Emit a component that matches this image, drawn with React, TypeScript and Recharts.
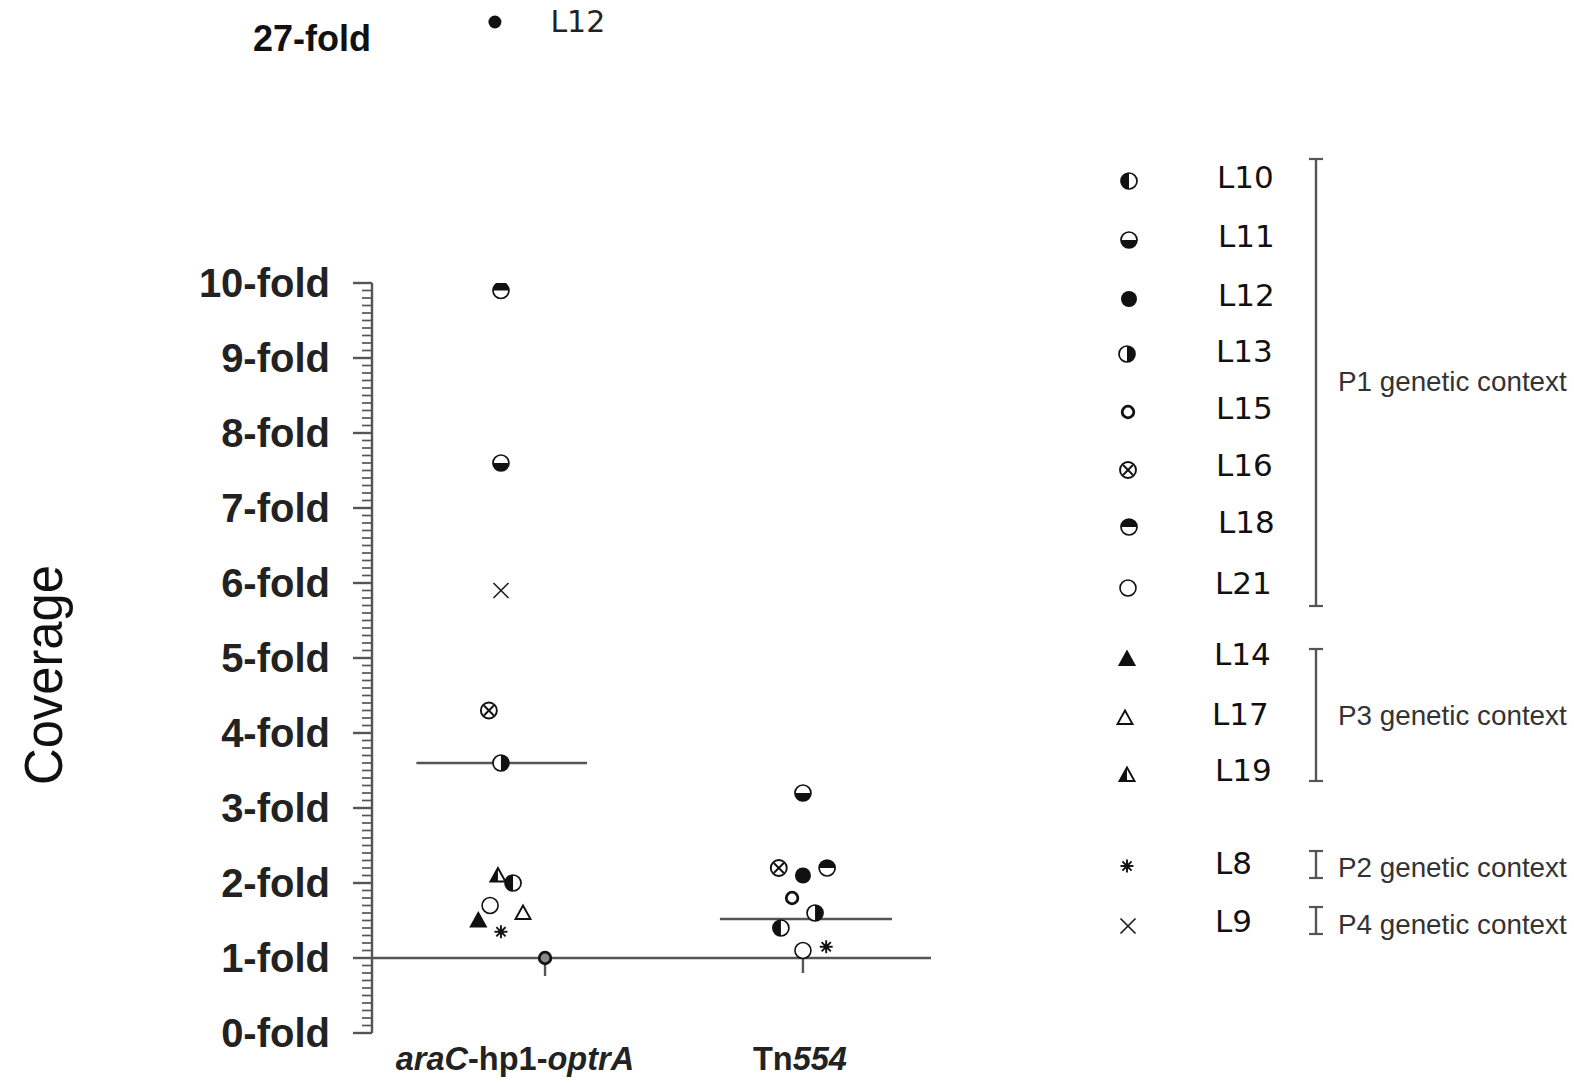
import React from "react";
import {
  ScatterChart,
  Scatter,
  XAxis,
  YAxis,
  ReferenceLine,
  LabelList,
} from "recharts";

// ---------- data ----------
const groupPositions = [0, 1];
const groupLabelParts: [string, boolean][][] = [
  [
    ["araC", true],
    ["-hp1-", false],
    ["optrA", true],
  ],
  [
    ["Tn", false],
    ["554", true],
  ],
];

const araCLines = ["L10", "L11", "L12", "L13", "L15", "L16", "L18", "L21", "L14", "L17", "L19", "L8", "L9"];
const araCValues = [2.0, 7.6, 27, 3.6, 1.0, 4.3, 9.9, 1.7, 1.5, 1.6, 2.1, 1.35, 5.9];
const araCJitter = [0.04, 0, -0.02, 0, 0.146, -0.04, 0, -0.036, -0.075, 0.073, -0.01, 0, 0];

const tnLines = ["L10", "L11", "L12", "L13", "L15", "L16", "L18", "L21", "L8"];
const tnValues = [1.4, 3.2, 2.1, 1.6, 1.8, 2.2, 2.2, 1.1, 1.15];
const tnJitter = [-0.073, 0, 0, 0.04, -0.036, -0.08, 0.08, 0, 0.077];

const groupMeans = [3.6, 1.52];
const meanHalfLeft = [0.28, 0.275];
const meanHalfRight = [0.285, 0.295];

// lower whiskers (stems) below single points
const stemGroup = [0, 1];
const stemJitter = [0.146, 0];
const stemFrom = [1.0, 1.1];
const stemTo = [0.76, 0.8];

const yTickValues = [0, 1, 2, 3, 4, 5, 6, 7, 8, 9, 10];
const yTickLabels = ["0-fold", "1-fold", "2-fold", "3-fold", "4-fold", "5-fold", "6-fold", "7-fold", "8-fold", "9-fold", "10-fold"];
const brokenTickValue = 27;
const brokenTickLabel = "27-fold";

const symbolOf: Record<string, string> = {
  L10: "halfLeft",
  L11: "halfBottom",
  L12: "solid",
  L13: "halfRight",
  L15: "smallRing",
  L16: "xcircle",
  L18: "halfTop",
  L21: "ring",
  L14: "triFilled",
  L17: "triOpen",
  L19: "triHalf",
  L8: "asterisk",
  L9: "cross",
};

const legendLines = ["L10", "L11", "L12", "L13", "L15", "L16", "L18", "L21", "L14", "L17", "L19", "L8", "L9"];
const legendLabelY = [177, 236, 295, 351, 408, 465, 522, 583, 654, 714, 770, 863, 921];
const legendSymbolY = [181, 240, 299, 354, 412, 470, 527, 588, 659, 718, 775, 866, 926];
const legendSymbolX = [1129, 1129, 1129, 1127, 1128, 1128, 1129, 1128, 1127, 1125, 1127, 1127, 1128];
const legendLabelX = [1217, 1218, 1218, 1216, 1216, 1216, 1218, 1215, 1214, 1212, 1215, 1215, 1215];
const contextNames = ["P1 genetic context", "P3 genetic context", "P2 genetic context", "P4 genetic context"];
const contextTextY = [382, 716, 868, 925];
const contextBracketTop = [159, 649, 851, 907];
const contextBracketBottom = [606, 781, 878, 934];

// ---------- build point tables ----------
type Pt = { x: number; y: number; line: string; kind: string; fill?: string };
const allPoints: Pt[] = [
  ...araCLines.map((l, i) => ({
    x: groupPositions[0] + araCJitter[i],
    y: araCValues[i],
    line: l,
    kind: symbolOf[l],
    fill: l === "L15" ? "#8a8a8a" : undefined,
  })),
  ...tnLines.map((l, i) => ({
    x: groupPositions[1] + tnJitter[i],
    y: tnValues[i],
    line: l,
    kind: symbolOf[l],
  })),
];
const mainPoints = allPoints.filter((p) => p.y <= 10);
const brokenPoints = allPoints.filter((p) => p.y > 10);

// ---------- markers ----------
const INK = "#111";
const LINE = "#555";
function Marker({ kind, cx, cy, fill }: { kind: string; cx: number; cy: number; fill?: string }) {
  const r = 8;
  const sw = 1.7;
  switch (kind) {
    case "solid":
      return <circle cx={cx} cy={cy} r={r} fill={INK} />;
    case "ring":
      return <circle cx={cx} cy={cy} r={r} fill="#fff" stroke={INK} strokeWidth={1.6} />;
    case "smallRing":
      return <circle cx={cx} cy={cy} r={5.8} fill={fill || "#fff"} stroke={INK} strokeWidth={2.8} />;
    case "halfLeft":
    case "halfRight":
    case "halfTop":
    case "halfBottom": {
      let d = "";
      if (kind === "halfLeft") d = `M${cx},${cy - r} A${r},${r} 0 0 0 ${cx},${cy + r} Z`;
      if (kind === "halfRight") d = `M${cx},${cy - r} A${r},${r} 0 0 1 ${cx},${cy + r} Z`;
      if (kind === "halfTop") d = `M${cx - r},${cy} A${r},${r} 0 0 1 ${cx + r},${cy} Z`;
      if (kind === "halfBottom") d = `M${cx - r},${cy} A${r},${r} 0 0 0 ${cx + r},${cy} Z`;
      return (
        <g>
          <circle cx={cx} cy={cy} r={r} fill="#fff" stroke={INK} strokeWidth={sw} />
          <path d={d} fill={INK} />
        </g>
      );
    }
    case "xcircle": {
      const k = r * 0.62;
      return (
        <g>
          <circle cx={cx} cy={cy} r={r} fill="#fff" stroke={INK} strokeWidth={1.9} />
          <line x1={cx - k} y1={cy - k} x2={cx + k} y2={cy + k} stroke={INK} strokeWidth={1.9} />
          <line x1={cx - k} y1={cy + k} x2={cx + k} y2={cy - k} stroke={INK} strokeWidth={1.9} />
        </g>
      );
    }
    case "triFilled":
    case "triOpen":
    case "triHalf": {
      const top = `${cx},${cy - 7.5}`;
      const br = `${cx + 7.5},${cy + 6}`;
      const bl = `${cx - 7.5},${cy + 6}`;
      return (
        <g>
          <polygon
            points={`${top} ${br} ${bl}`}
            fill={kind === "triFilled" ? INK : "#fff"}
            stroke={INK}
            strokeWidth={1.9}
            strokeLinejoin="miter"
          />
          {kind === "triHalf" && <polygon points={`${top} ${cx},${cy + 6} ${bl}`} fill={INK} />}
        </g>
      );
    }
    case "asterisk": {
      const a = 6.5;
      const b = a * 0.707;
      return (
        <g stroke={INK} strokeWidth={1.9}>
          <line x1={cx - a} y1={cy} x2={cx + a} y2={cy} />
          <line x1={cx} y1={cy - a} x2={cx} y2={cy + a} />
          <line x1={cx - b} y1={cy - b} x2={cx + b} y2={cy + b} />
          <line x1={cx - b} y1={cy + b} x2={cx + b} y2={cy - b} />
          <circle cx={cx} cy={cy} r={2.7} fill={INK} stroke="none" />
        </g>
      );
    }
    case "cross": {
      const a = 7.5;
      return (
        <g stroke="#222" strokeWidth={1.7}>
          <line x1={cx - a} y1={cy - a} x2={cx + a} y2={cy + a} />
          <line x1={cx - a} y1={cy + a} x2={cx + a} y2={cy - a} />
        </g>
      );
    }
  }
  return null;
}

// ---------- ticks ----------
const FONT = "'Liberation Sans', Arial, Helvetica, sans-serif";
const SANS2 = "'DejaVu Sans', Verdana, sans-serif";
const minorTicks: number[] = [];
for (let i = 0; i <= 100; i++) minorTicks.push(i / 10);

const YTick = (props: any) => {
  const { x, y, payload } = props;
  const v = payload.value as number;
  const idx = yTickValues.findIndex((t) => Math.abs(t - v) < 1e-6);
  const major = idx >= 0;
  return (
    <g>
      <line x1={x - (major ? 19 : 10)} x2={x} y1={y} y2={y} stroke={LINE} strokeWidth={major ? 2.4 : 1.7} />
      {major && (
        <text x={x - 42} y={y + 14} textAnchor="end" fontFamily={FONT} fontWeight="bold" fontSize={40} fill="#222">
          {yTickLabels[idx]}
        </text>
      )}
    </g>
  );
};

const XTick = (props: any) => {
  const { x, y, index } = props;
  const dx = index === 0 ? 14 : -3;
  return (
    <text x={x + dx} y={y + 37} textAnchor="middle" fontFamily={FONT} fontWeight="bold" fontSize={32.5} fill="#222">
      {groupLabelParts[index].map(([t, it], i) => (
        <tspan key={i} fontStyle={it ? "italic" : "normal"}>
          {t}
        </tspan>
      ))}
    </text>
  );
};

const BrokenTick = (props: any) => {
  const { x, y } = props;
  return (
    <text x={x - 1} y={y + 29} textAnchor="end" fontFamily={FONT} fontWeight="bold" fontSize={36} fill="#111">
      {brokenTickLabel}
    </text>
  );
};

const X_DOMAIN: [number, number] = [-0.427, 1.424];
const shapeFn = (p: any) => <Marker kind={p.payload.kind} cx={p.cx} cy={p.cy} fill={p.payload.fill} />;

export default function App() {
  return (
    <div style={{ position: "absolute", left: 0, top: 0, width: 1574, height: 1086, background: "#fff" }}>
      {/* main chart */}
      <div style={{ position: "absolute", left: 0, top: 0 }}>
        <ScatterChart width={1574} height={1086} margin={{ top: 283, right: 643, bottom: 13, left: 0 }}>
          <XAxis
            type="number"
            dataKey="x"
            domain={X_DOMAIN}
            allowDataOverflow
            ticks={groupPositions}
            interval={0}
            axisLine={false}
            tickLine={false}
            tickSize={0}
            tickMargin={0}
            height={40}
            tick={<XTick />}
          />
          <YAxis
            type="number"
            dataKey="y"
            domain={[0, 10]}
            allowDataOverflow
            ticks={minorTicks}
            interval={0}
            width={372}
            axisLine={{ stroke: LINE, strokeWidth: 2.4 }}
            tickLine={false}
            tickSize={0}
            tickMargin={0}
            tick={<YTick />}
            label={{
              content: (p: any) => {
                const vb = p.viewBox || { x: 0, y: 283, height: 750 };
                const cx = vb.x + 62;
                const cy = vb.y + vb.height / 2 + 17;
                return (
                  <text
                    x={cx}
                    y={cy}
                    transform={`rotate(-90, ${cx}, ${cy})`}
                    textAnchor="middle"
                    fontFamily={FONT}
                    fontSize={54}
                    textLength={220}
                    lengthAdjust="spacingAndGlyphs"
                    fill="#111"
                  >
                    Coverage
                  </text>
                );
              },
            }}
          />
          <ReferenceLine y={1} stroke={LINE} strokeWidth={2.4} />
          {groupPositions.map((g, i) => (
            <ReferenceLine
              key={"m" + i}
              segment={[
                { x: g - meanHalfLeft[i], y: groupMeans[i] },
                { x: g + meanHalfRight[i], y: groupMeans[i] },
              ]}
              stroke={LINE}
              strokeWidth={2.4}
            />
          ))}
          {stemGroup.map((g, i) => (
            <ReferenceLine
              key={"s" + i}
              segment={[
                { x: groupPositions[g] + stemJitter[i], y: stemFrom[i] },
                { x: groupPositions[g] + stemJitter[i], y: stemTo[i] },
              ]}
              stroke={LINE}
              strokeWidth={2.4}
            />
          ))}
          <Scatter data={mainPoints} shape={shapeFn} isAnimationActive={false} />
        </ScatterChart>
      </div>

      {/* broken-axis inset for the 27-fold point */}
      <div style={{ position: "absolute", left: 0, top: 0 }}>
        <ScatterChart width={1574} height={80} margin={{ top: 0, right: 643, bottom: 36, left: 0 }}>
          <XAxis type="number" dataKey="x" domain={X_DOMAIN} allowDataOverflow hide />
          <YAxis
            type="number"
            dataKey="y"
            domain={[26, 28]}
            ticks={[brokenTickValue]}
            width={372}
            axisLine={false}
            tickLine={false}
            tickSize={0}
            tickMargin={0}
            tick={<BrokenTick />}
          />
          <Scatter
            data={brokenPoints}
            shape={(p: any) => <circle cx={p.cx} cy={p.cy} r={6.5} fill={INK} />}
            isAnimationActive={false}
          >
            <LabelList
              dataKey="line"
              content={(p: any) => (
                <text x={p.x + 60} y={p.y + 15} fontFamily={SANS2} fontSize={30} fill="#222">
                  {p.value}
                </text>
              )}
            />
          </Scatter>
        </ScatterChart>
      </div>

      {/* legend */}
      <svg width={1574} height={1086} style={{ position: "absolute", left: 0, top: 0, pointerEvents: "none" }}>
        {legendLines.map((l, i) => (
          <g key={l}>
            <Marker kind={symbolOf[l]} cx={legendSymbolX[i]} cy={legendSymbolY[i]} />
            <text x={legendLabelX[i]} y={legendLabelY[i] + 11} fontFamily={SANS2} fontSize={31} fill="#111">
              {l}
            </text>
          </g>
        ))}
        {contextNames.map((n, i) => (
          <g key={n}>
            <line x1={1316} x2={1316} y1={contextBracketTop[i]} y2={contextBracketBottom[i]} stroke={LINE} strokeWidth={2.4} />
            <line x1={1309} x2={1323} y1={contextBracketTop[i]} y2={contextBracketTop[i]} stroke={LINE} strokeWidth={2.2} />
            <line x1={1309} x2={1323} y1={contextBracketBottom[i]} y2={contextBracketBottom[i]} stroke={LINE} strokeWidth={2.2} />
            <text x={1338} y={contextTextY[i] + 9} fontFamily={FONT} fontSize={27.8} fill="#333">
              {n}
            </text>
          </g>
        ))}
      </svg>
    </div>
  );
}
